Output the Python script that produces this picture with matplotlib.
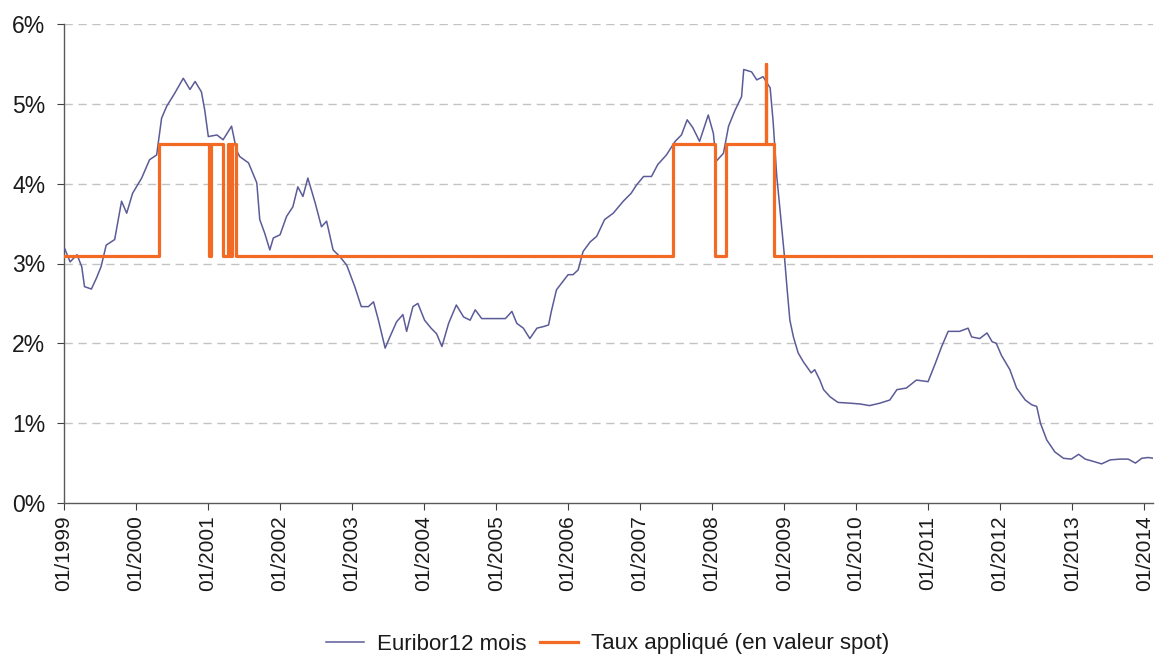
import matplotlib

matplotlib.use("Agg")

import matplotlib.pyplot as plt
import matplotlib.dates as mdates
import pandas as pd

PURPLE = "#5b5b98"
ORANGE = "#f26a23"
GRID = "#c3c3c3"
TEXT = "#1a1a1a"

plt.rcParams["font.family"] = ["Liberation Sans", "DejaVu Sans"]

# Euribor 12 mois (date, %)
euribor_dates = [
    "1999-01-04", "1999-02-01", "1999-03-08", "1999-04-01", "1999-04-15", "1999-05-20",
    "1999-06-15", "1999-07-08", "1999-08-03", "1999-09-15", "1999-10-20", "1999-11-15",
    "1999-12-15", "2000-01-30", "2000-03-10", "2000-04-15", "2000-05-10", "2000-06-05",
    "2000-07-15", "2000-08-28", "2000-10-01", "2000-10-27", "2000-11-28", "2000-12-15",
    "2001-01-02", "2001-02-15", "2001-03-18", "2001-04-30", "2001-05-25", "2001-06-10",
    "2001-07-25", "2001-09-05", "2001-09-20", "2001-10-15", "2001-11-10", "2001-11-28",
    "2002-01-01", "2002-02-03", "2002-03-07", "2002-04-01", "2002-04-27", "2002-05-22",
    "2002-06-28", "2002-07-30", "2002-08-25", "2002-09-27", "2002-10-30", "2002-12-05",
    "2003-01-15", "2003-02-17", "2003-03-25", "2003-04-20", "2003-05-15", "2003-06-18",
    "2003-07-12", "2003-08-15", "2003-09-16", "2003-10-05", "2003-11-06", "2003-12-01",
    "2004-01-04", "2004-02-06", "2004-03-05", "2004-04-01", "2004-05-05", "2004-06-13",
    "2004-07-20", "2004-08-22", "2004-09-17", "2004-10-20", "2004-11-22", "2005-01-05",
    "2005-02-17", "2005-03-22", "2005-04-16", "2005-05-19", "2005-06-21", "2005-07-27",
    "2005-08-29", "2005-09-24", "2005-10-08", "2005-11-03", "2005-11-28", "2006-01-01",
    "2006-01-26", "2006-02-21", "2006-03-18", "2006-04-23", "2006-05-26", "2006-07-05",
    "2006-08-18", "2006-10-08", "2006-11-17", "2006-12-13", "2007-01-19", "2007-02-28",
    "2007-04-01", "2007-05-15", "2007-06-28", "2007-07-30", "2007-08-28", "2007-09-26",
    "2007-10-30", "2007-12-13", "2008-01-08", "2008-01-22", "2008-02-28", "2008-03-25",
    "2008-04-27", "2008-05-30", "2008-06-10", "2008-07-20", "2008-08-15", "2008-09-16",
    "2008-10-22", "2008-11-06", "2008-11-24", "2008-12-20", "2009-01-01", "2009-01-15",
    "2009-01-30", "2009-02-17", "2009-03-13", "2009-04-08", "2009-05-18", "2009-06-05",
    "2009-07-01", "2009-07-20", "2009-08-22", "2009-10-01", "2009-12-03", "2010-01-22",
    "2010-03-10", "2010-05-01", "2010-06-21", "2010-07-27", "2010-09-13", "2010-11-03",
    "2011-01-01", "2011-02-07", "2011-03-11", "2011-04-13", "2011-06-10", "2011-07-23",
    "2011-08-10", "2011-09-20", "2011-10-27", "2011-11-22", "2011-12-13", "2012-01-08",
    "2012-02-20", "2012-03-25", "2012-05-08", "2012-06-10", "2012-07-05", "2012-07-24",
    "2012-08-25", "2012-10-05", "2012-11-18", "2012-12-28", "2013-02-03", "2013-03-08",
    "2013-04-20", "2013-05-30", "2013-07-13", "2013-09-02", "2013-10-12", "2013-11-18",
    "2013-12-20", "2014-01-22", "2014-02-17",
]
euribor_values = [
    3.19, 3.02, 3.11, 2.96, 2.71, 2.68,
    2.82, 2.96, 3.23, 3.30, 3.78, 3.63,
    3.88, 4.07, 4.30, 4.36, 4.82, 4.97,
    5.13, 5.32, 5.18, 5.28, 5.15, 4.92,
    4.59, 4.61, 4.55, 4.72, 4.42, 4.34,
    4.26, 4.01, 3.55, 3.38, 3.17, 3.32,
    3.36, 3.59, 3.71, 3.96, 3.84, 4.07,
    3.76, 3.46, 3.53, 3.17, 3.09, 2.98,
    2.71, 2.46, 2.46, 2.52, 2.29, 1.94,
    2.08, 2.27, 2.36, 2.15, 2.46, 2.50,
    2.29, 2.19, 2.12, 1.96, 2.25, 2.48,
    2.33, 2.29, 2.42, 2.31, 2.31, 2.31,
    2.31, 2.40, 2.25, 2.19, 2.06, 2.19,
    2.21, 2.23, 2.40, 2.67, 2.75, 2.86,
    2.86, 2.92, 3.15, 3.27, 3.34, 3.55,
    3.63, 3.78, 3.88, 3.98, 4.09, 4.09,
    4.24, 4.36, 4.53, 4.61, 4.80, 4.70,
    4.53, 4.86, 4.63, 4.28, 4.38, 4.72,
    4.92, 5.09, 5.43, 5.40, 5.30, 5.34,
    5.20, 4.78, 4.11, 3.44, 3.13, 2.71,
    2.29, 2.08, 1.88, 1.77, 1.63, 1.67,
    1.54, 1.42, 1.33, 1.26, 1.25, 1.24,
    1.22, 1.25, 1.29, 1.42, 1.44, 1.54,
    1.52, 1.75, 1.96, 2.15, 2.15, 2.19,
    2.08, 2.06, 2.13, 2.02, 2.00, 1.85,
    1.67, 1.44, 1.29, 1.23, 1.21, 1.00,
    0.79, 0.64, 0.56, 0.55, 0.61, 0.55,
    0.52, 0.49, 0.54, 0.55, 0.55, 0.50,
    0.56, 0.57, 0.56,
]

# Taux appliqué: value holds from each date until the next one
taux_dates = [
    "1999-01-01", "2000-04-27", "2001-01-05", "2001-01-15", "2001-03-18", "2001-04-10",
    "2001-04-22", "2001-04-30", "2001-05-24", "2007-06-18", "2008-01-16", "2008-03-12",
    "2008-09-29", "2008-10-03", "2008-11-13", "2014-02-17",
]
taux_values = [
    3.1, 4.5, 3.1, 4.5, 3.1, 4.5,
    3.1, 4.5, 3.1, 4.5, 3.1, 4.5,
    5.5, 4.5, 3.1, 3.1,
]

y_ticks = [0, 1, 2, 3, 4, 5, 6]

fig = plt.figure(figsize=(11.56, 6.59), dpi=100, facecolor="white")
ax = fig.add_axes([64 / 1156, 1 - 503 / 659, (1153 - 64) / 1156, (503 - 24) / 659])

ax.plot(pd.to_datetime(euribor_dates), euribor_values, color=PURPLE, lw=1.1,
        label="Euribor12 mois", zorder=3)
ax.plot(pd.to_datetime(taux_dates), taux_values, color=ORANGE, lw=2.3,
        drawstyle="steps-post", label="Taux appliqué (en valeur spot)", zorder=4)

ax.set_xlim(pd.Timestamp("1999-01-01"), pd.Timestamp("2014-02-15"))
ax.set_ylim(0, 6)
ax.set_yticks(y_ticks)
ax.set_yticklabels([f"{v}%" for v in y_ticks])
for v in y_ticks[1:]:
    ax.axhline(v, color=GRID, lw=1.0, ls=(0, (6, 4)), zorder=1)

ax.xaxis.set_major_locator(mdates.YearLocator())
ax.xaxis.set_major_formatter(mdates.DateFormatter("%m/%Y"))
ax.tick_params(axis="x", rotation=90, labelsize=15, length=5, colors="#404040",
               labelcolor=TEXT, pad=4)
ax.tick_params(axis="y", labelsize=16.5, length=5, colors="#404040",
               labelcolor=TEXT, pad=8.5)

for side in ["top", "right"]:
    ax.spines[side].set_visible(False)
for side in ["left", "bottom"]:
    ax.spines[side].set_color("#595959")
    ax.spines[side].set_linewidth(1.0)

fig.legend(loc="center", bbox_to_anchor=(608 / 1156, 1 - 644 / 659), ncol=2,
           frameon=False, fontsize=16, handlelength=1.7, handletextpad=0.6,
           columnspacing=0.6, labelcolor=TEXT)

fig.savefig("out.png", dpi=100, facecolor="white")
